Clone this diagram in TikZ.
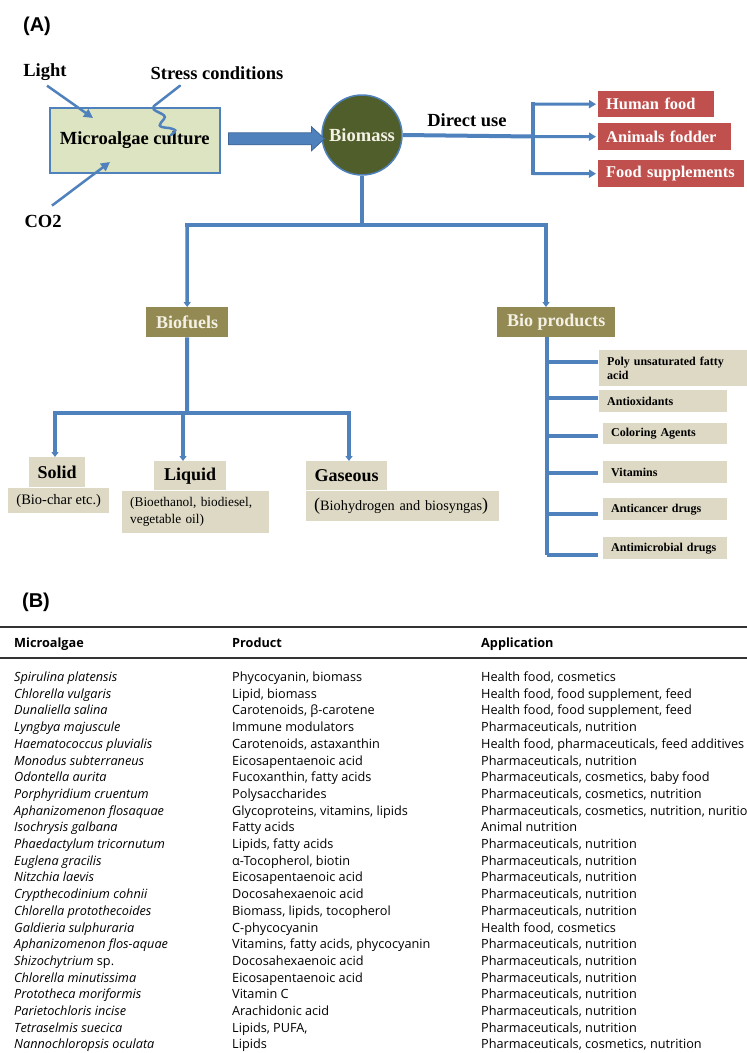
\documentclass[tikz,border=0pt]{standalone}
\usepackage{fontspec}
\setmainfont{Liberation Serif}
\newfontfamily\tabfont{Open Sans}
\newfontfamily\labfont{Liberation Sans}
\usetikzlibrary{arrows.meta}
\definecolor{lblue}{HTML}{4F81BD}
\definecolor{mcfill}{HTML}{DCE4C1}
\definecolor{bmfill}{HTML}{4F5E2B}
\definecolor{olbox}{HTML}{938953}
\definecolor{beige}{HTML}{DDD9C4}
\definecolor{redb}{HTML}{C0504D}
\definecolor{cream}{HTML}{F4F1E4}
\begin{document}
\begin{tikzpicture}[x=1pt,y=-1pt,
 lab/.style={font=\fontsize{18.5}{20}\selectfont\bfseries, inner sep=0},
 panel/.style={font=\labfont\fontsize{20}{22}\selectfont\bfseries, inner sep=0},
 mainline/.style={draw=lblue, line width=4pt},
 brline/.style={draw=lblue, line width=3.5pt},
 brarr/.style={draw=lblue, line width=3pt, -{Triangle[length=7pt,width=8pt]}, shorten >=2pt},
 downarr/.style={draw=lblue, line width=3.5pt, -{Triangle[length=5pt,width=7pt]}},
 inarr/.style={draw=lblue, line width=2.5pt, -{Triangle[length=9pt,width=9pt]}},
 redbox/.style={fill=redb, text=white, font=\fontsize{16.4}{18}\selectfont\bfseries, inner xsep=8pt, inner ysep=0, align=left, anchor=north west},
 olbx/.style={fill=olbox, text=cream, font=\fontsize{18}{20}\selectfont\bfseries, inner sep=0, anchor=north west},
 headbx/.style={fill=beige, font=\fontsize{18}{20}\selectfont\bfseries, inner sep=0, anchor=north west},
 subbx/.style={fill=beige, inner sep=0, anchor=north west},
 prodbx/.style={fill=beige, font=\fontsize{12}{13.5}\selectfont\bfseries, inner xsep=8pt, inner ysep=0, align=left, anchor=north west},
 tc/.style={font=\tabfont\fontsize{12.7}{14}\selectfont, inner sep=0, anchor=base west},
 tci/.style={font=\tabfont\fontsize{12.7}{14}\selectfont\itshape, inner sep=0, anchor=base west},
 th/.style={font=\tabfont\fontsize{12.7}{14}\selectfont\bfseries, inner sep=0, anchor=base west},
]
\useasboundingbox (0,0) rectangle (747,1053);
\clip (0,0) rectangle (747,1053);
\fill[white] (0,0) rectangle (747,1053);

% ---------- panel A ----------
\node[panel] (pa) at (37,26) {(A)};
\node[lab] (lt) at (45,72) {Light};
\node[lab] (st) at (217,73) {Stress conditions};
\node[lab] (co) at (43,221) {CO2};
\node[draw=lblue, line width=1.5pt, fill=mcfill, minimum width=170pt, minimum height=65pt,
      anchor=north west, inner sep=0, font=\fontsize{18.5}{20}\selectfont\bfseries] (mc) at (49,107) {Microalgae culture};
\node[circle, fill=bmfill, draw=lblue, line width=1.5pt, minimum size=80pt, inner sep=0,
      text=cream, font=\fontsize{18.5}{20}\selectfont\bfseries] (bm) at (362,135) {Biomass};
\node[lab] (du) at (467,120) {Direct use};

\coordinate (lte) at (93,118);
\coordinate (coe) at (110,162);
\draw[inarr] ([xshift=2pt,yshift=-5pt]lt.south) -- (lte);
\draw[inarr] ([xshift=9pt,yshift=9pt]co.north) -- (coe);
\draw[draw=lblue, line width=2.5pt, line cap=round]
  ([xshift=-37pt,yshift=-6pt]st.south) -- (154,106)
  .. controls (149,112) and (169,113) .. (164,119)
  .. controls (159,125) and (156,127) .. (169,128)
  .. controls (177,130) .. (171,135);

\fill[lblue, draw=lblue!80!black, line width=0.8pt]
  ([xshift=8pt,yshift=1.5pt]mc.east) ++(0,-6) -- ++(83,0) -- ++(0,-6) -- ++(13,12)
  -- ++(-13,12) -- ++(0,-6) -- ++(-83,0) -- cycle;

% direct use
\node[redbox, text width=100pt, minimum height=26pt] (hf) at (598,91) {Human food};
\node[redbox, text width=117pt, minimum height=27pt] (af) at (598,123) {Animals fodder};
\node[redbox, text width=130pt, minimum height=27pt] (fs) at (598,160) {Food supplements};
\coordinate (dj) at (533,136.5);
\coordinate (dt) at (533,104);
\coordinate (db) at (533,173.5);
\draw[mainline] (bm.east) -- (dj);
\draw[brline, line cap=rect] (dt) -- (db);
\draw[brarr] (dt) -- (hf.west);
\draw[brarr] (dj) -- (af.west);
\draw[brarr] (db) -- (fs.west);

% biomass split
\node[olbx, minimum width=82pt, minimum height=30pt] (bf) at (146,307) {Biofuels};
\node[olbx, minimum width=118pt, minimum height=30pt] (bp) at (497,307) {Bio products};
\coordinate (bj) at (362,225);
\coordinate (bl) at (187,225);
\coordinate (br) at (546,225);
\draw[mainline] (bm.south) -- (bj);
\draw[mainline, line cap=rect] (bl) -- (br);
\draw[downarr] (bl) -- (bf.north);
\draw[downarr] (br) -- (br |- bp.north);

% biofuels
\node[headbx, minimum width=56pt, minimum height=30pt] (so) at (29,457) {Solid};
\node[subbx, minimum width=101pt, minimum height=25pt, font=\fontsize{14.5}{17}\selectfont] (sos) at (8,488) {(Bio-char etc.)};
\node[headbx, minimum width=72pt, minimum height=29pt] (li) at (154,461) {Liquid};
\node[subbx, text width=131pt, inner xsep=8pt, minimum height=42pt, align=left, font=\fontsize{13.3}{17}\selectfont] (lis) at (122,491) {(Bioethanol, biodiesel,\\vegetable oil)};
\node[headbx, minimum width=81pt, minimum height=29pt] (ga) at (306,461) {Gaseous};
\node[subbx, text width=177pt, inner xsep=8pt, minimum height=30pt, align=left, font=\fontsize{14.3}{17}\selectfont] (gas) at (306,491) {{\fontsize{18}{17}\selectfont(}Biohydrogen and biosyngas{\fontsize{18}{17}\selectfont)}};
\coordinate (fj) at (187,413);
\coordinate (fl) at (55,413);
\coordinate (fm) at (183,413);
\coordinate (fr) at (349,413);
\draw[mainline] (bf.south) -- (fj);
\draw[brline, line cap=rect] (fl) -- (fr);
\draw[downarr] (fl) -- (fl |- so.north);
\draw[downarr] (fm) -- (fm |- li.north);
\draw[downarr] (fr) -- (fr |- ga.north);

% bio products
\node[prodbx, text width=132pt, minimum height=36pt] (pu) at (599,350) {Poly unsaturated fatty\\acid};
\node[prodbx, text width=112pt, minimum height=22pt] (ao) at (599,390) {Antioxidants};
\node[prodbx, text width=108pt, minimum height=21pt] (ca) at (603,423) {Coloring Agents};
\node[prodbx, text width=108pt, minimum height=22pt] (vi) at (603,461) {Vitamins};
\node[prodbx, text width=108pt, minimum height=22pt] (ac) at (603,498) {Anticancer drugs};
\node[prodbx, text width=108pt, minimum height=22pt] (am) at (603,537) {Antimicrobial drugs};
\coordinate (px) at (598,0);
\coordinate (b1) at (547,362);
\coordinate (b2) at (547,398);
\coordinate (b3) at (547,436);
\coordinate (b4) at (547,473);
\coordinate (b5) at (547,514);
\coordinate (b6) at (547,555);
\draw[brline] (b1 |- bp.south) -- (b6);
\foreach \k in {1,...,6} \draw[brline] (b\k) -- (b\k -| px);

% ---------- panel B ----------
\node[panel] (pb) at (36,602) {(B)};
\draw[line width=1.6pt, black!80] (0,627) -- (747,627);
\draw[line width=1.1pt, black!80] (0,658) -- (747,658);
\node[th] (h1) at (14,647.5) {Microalgae};
\node[th] (h2) at (232,647.5) {Product};
\node[th] (h3) at (481,647.5) {Application};
\foreach \i/\a/\b/\c in {
 1/{Spirulina platensis}/{Phycocyanin, biomass}/{Health food, cosmetics},
 2/{Chlorella vulgaris}/{Lipid, biomass}/{Health food, food supplement, feed},
 3/{Dunaliella salina}/{Carotenoids, β-carotene}/{Health food, food supplement, feed},
 4/{Lyngbya majuscule}/{Immune modulators}/{Pharmaceuticals, nutrition},
 5/{Haematococcus pluvialis}/{Carotenoids, astaxanthin}/{Health food, pharmaceuticals, feed additives},
 6/{Monodus subterraneus}/{Eicosapentaenoic acid}/{Pharmaceuticals, nutrition},
 7/{Odontella aurita}/{Fucoxanthin, fatty acids}/{Pharmaceuticals, cosmetics, baby food},
 8/{Porphyridium cruentum}/{Polysaccharides}/{Pharmaceuticals, cosmetics, nutrition},
 9/{Aphanizomenon flosaquae}/{Glycoproteins, vitamins, lipids}/{Pharmaceuticals, cosmetics, nutrition, nurition},
 10/{Isochrysis galbana}/{Fatty acids}/{Animal nutrition},
 11/{Phaedactylum tricornutum}/{Lipids, fatty acids}/{Pharmaceuticals, nutrition},
 12/{Euglena gracilis}/{α-Tocopherol, biotin}/{Pharmaceuticals, nutrition},
 13/{Nitzchia laevis}/{Eicosapentaenoic acid}/{Pharmaceuticals, nutrition},
 14/{Crypthecodinium cohnii}/{Docosahexaenoic acid}/{Pharmaceuticals, nutrition},
 15/{Chlorella protothecoides}/{Biomass, lipids, tocopherol}/{Pharmaceuticals, nutrition},
 16/{Galdieria sulphuraria}/{C-phycocyanin}/{Health food, cosmetics},
 17/{Aphanizomenon flos-aquae}/{Vitamins, fatty acids, phycocyanin}/{Pharmaceuticals, nutrition},
 18/{Shizochytrium {\upshape sp.}}/{Docosahexaenoic acid}/{Pharmaceuticals, nutrition},
 19/{Chlorella minutissima}/{Eicosapentaenoic acid}/{Pharmaceuticals, nutrition},
 20/{Prototheca moriformis}/{Vitamin C}/{Pharmaceuticals, nutrition},
 21/{Parietochloris incise}/{Arachidonic acid}/{Pharmaceuticals, nutrition},
 22/{Tetraselmis suecica}/{Lipids, PUFA,}/{Pharmaceuticals, nutrition},
 23/{Nannochloropsis oculata}/{Lipids}/{Pharmaceuticals, cosmetics, nutrition}}
{
 \node[tci] (m\i) at (14,{681.5+(\i-1)*16.7}) {\a};
 \node[tc] (p\i) at (232,{681.5+(\i-1)*16.7}) {\b};
 \node[tc] (a\i) at (481,{681.5+(\i-1)*16.7}) {\c};
}
\end{tikzpicture}
\end{document}
